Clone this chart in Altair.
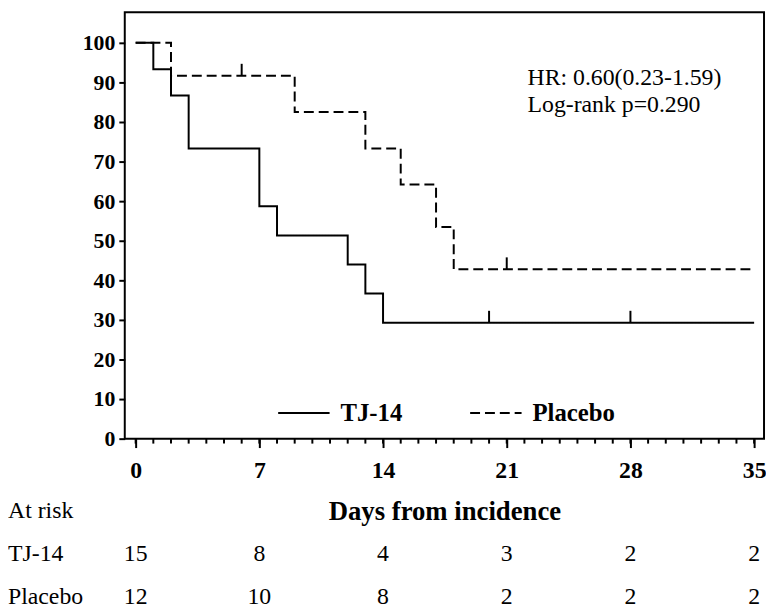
import altair as alt
import pandas as pd

# ---- data ----
groups = ["TJ-14", "Placebo"]
tj_days = [0, 1, 2, 3, 7, 8, 12, 13, 14, 35]
tj_surv = [100, 93.3, 86.7, 73.3, 58.7, 51.3, 44.0, 36.7, 29.3, 29.3]
pl_days = [0, 2, 9, 13, 15, 17, 18, 35]
pl_surv = [100, 91.7, 82.5, 73.3, 64.2, 53.5, 42.8, 42.8]

tj_cens_days = [20, 28]
tj_cens_surv = [29.3, 29.3]
pl_cens_days = [6, 21]
pl_cens_surv = [91.7, 42.8]

major_days = [0, 7, 14, 21, 28, 35]
minor_days = list(range(0, 36))
y_ticks = [0, 10, 20, 30, 40, 50, 60, 70, 80, 90, 100]

risk_days = [0, 7, 14, 21, 28, 35]
tj_risk = [15, 8, 4, 3, 2, 2]
pl_risk = [12, 10, 8, 2, 2, 2]

annot_lines = ["HR: 0.60(0.23-1.59)", "Log-rank p=0.290"]
row_labels = ["At risk", "TJ-14", "Placebo"]

FONT = "Liberation Serif"

# ---- tables ----
curves = pd.concat([
    pd.DataFrame({"day": tj_days, "surv": tj_surv, "group": "TJ-14"}),
    pd.DataFrame({"day": pl_days, "surv": pl_surv, "group": "Placebo"}),
])
cens = pd.concat([
    pd.DataFrame({"day": tj_cens_days, "surv": tj_cens_surv, "group": "TJ-14"}),
    pd.DataFrame({"day": pl_cens_days, "surv": pl_cens_surv, "group": "Placebo"}),
])
cens["top"] = cens["surv"] + 3
minor = pd.DataFrame({"day": minor_days})
risk_tj = pd.DataFrame({"day": risk_days, "n": tj_risk})
risk_pl = pd.DataFrame({"day": risk_days, "n": pl_risk})

xscale = alt.Scale(domain=[-0.616, 35.56], nice=False, zero=False)
yscale = alt.Scale(domain=[0, 107.75], nice=False)

xaxis = alt.Axis(values=major_days, title="Days from incidence", tickSize=9, tickWidth=2,
                 tickColor="black", domain=False, grid=False,
                 labelFont=FONT, labelFontSize=24, labelFontWeight="bold", labelColor="black",
                 labelPadding=11, labelFlush=False,
                 titleFont=FONT, titleFontSize=27, titleFontWeight="bold", titleColor="black",
                 titlePadding=17)
yaxis = alt.Axis(values=y_ticks, title=None, tickSize=6, tickWidth=2, tickColor="black",
                 domain=False, grid=False, labelFont=FONT, labelFontSize=22,
                 labelFontWeight="bold", labelColor="black", labelPadding=4)

lines = alt.Chart(curves).mark_line(interpolate="step-after", color="black", strokeWidth=2).encode(
    x=alt.X("day:Q", scale=xscale, axis=xaxis),
    y=alt.Y("surv:Q", scale=yscale, axis=yaxis),
    strokeDash=alt.StrokeDash(
        "group:N",
        scale=alt.Scale(domain=groups, range=[[1, 0], [10, 5]]),
        legend=alt.Legend(orient="none", legendX=154, legendY=378, direction="horizontal",
                          title=None, symbolType="stroke", symbolSize=2700,
                          symbolStrokeWidth=2, symbolStrokeColor="black",
                          labelFont=FONT, labelFontSize=25, labelFontWeight="bold",
                          labelColor="black", labelOffset=10, columnPadding=64,
                          labelLimit=0),
    ),
    detail="group:N",
)

censor = alt.Chart(cens).mark_rule(color="black", strokeWidth=2).encode(
    x="day:Q", y="surv:Q", y2="top:Q"
)

minor_ticks = alt.Chart(minor).mark_rule(color="black", strokeWidth=2).encode(
    x="day:Q", y=alt.value(431), y2=alt.value(436)
)

def risk_row(df, ypix):
    return alt.Chart(df).mark_text(font=FONT, fontSize=24, color="black",
                                   baseline="alphabetic", align="center").encode(
        x="day:Q", y=alt.value(ypix), text="n:Q")

def label(txt, xpix, ypix):
    return alt.Chart(pd.DataFrame({"txt": [txt]})).mark_text(
        font=FONT, fontSize=24, color="black", baseline="alphabetic", align="left"
    ).encode(x=alt.value(xpix), y=alt.value(ypix), text="txt:N")

row_ys = [511, 555, 598]
annot_ys = [74, 101]

layers = [lines, censor, minor_ticks, risk_row(risk_tj, row_ys[1]), risk_row(risk_pl, row_ys[2])]
layers += [label(t, -118, y) for t, y in zip(row_labels, row_ys)]
layers += [label(t, 407, y) for t, y in zip(annot_lines, annot_ys)]

chart = alt.layer(*layers).properties(
    width=646, height=431,
    autosize=alt.AutoSizeParams(type="none"),
    padding={"left": 118, "top": 1, "right": 2, "bottom": 175},
).configure_view(stroke="black", strokeWidth=2)

chart.save("out.html", embed_options={"renderer": "svg", "actions": False})
